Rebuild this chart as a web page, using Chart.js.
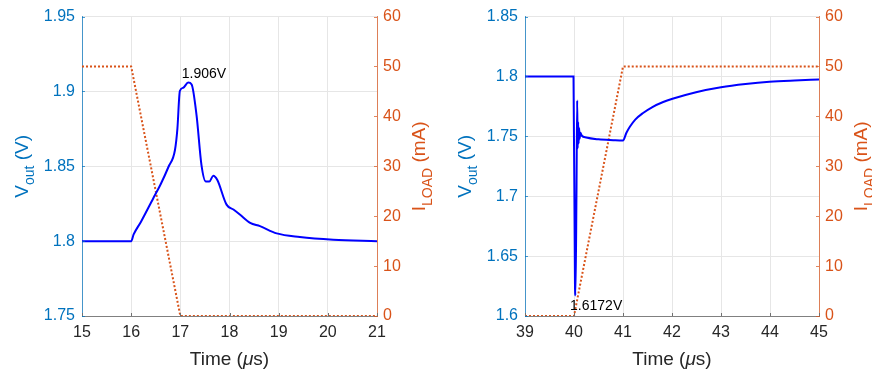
<!DOCTYPE html>
<html>
<head>
<meta charset="utf-8">
<script src="https://cdn.jsdelivr.net/npm/chart.js@4.4.1/dist/chart.umd.min.js"></script>
<style>
  html, body { margin: 0; padding: 0; background: #fff; }
  #wrap { position: relative; width: 872px; height: 371px; overflow: hidden; }
  .box { position: absolute; top: 0; width: 436px; height: 371px; }
  #boxL { left: 0; }
  #boxR { left: 436px; }
</style>
</head>
<body>
<div id="wrap">
  <div class="box" id="boxL"><canvas id="left"></canvas></div>
  <div class="box" id="boxR"><canvas id="right"></canvas></div>
</div>
<script>
// left panel: load release (50 mA -> 0)
const leftTime = [15, 16, 16.05, 16.2, 16.45, 16.6, 16.76, 16.89, 16.94, 16.99, 17.06, 17.16, 17.23, 17.33, 17.43,
  17.52, 17.59, 17.67, 17.75, 17.94, 18.08, 18.21, 18.42, 18.62, 18.96, 19.43, 20.11, 21];
const leftVout = [1.8, 1.8, 1.8045, 1.813, 1.8287, 1.838, 1.8497, 1.8607, 1.875, 1.9003, 1.9025, 1.906, 1.9047, 1.884, 1.8508,
  1.8398, 1.8398, 1.8437, 1.841, 1.8244, 1.8211, 1.8178, 1.8122, 1.81, 1.8052, 1.8028, 1.801, 1.8];
const leftLoadTime = [15, 16, 17, 21];
const leftLoad = [50, 50, 0, 0];

// right panel: load step (0 -> 50 mA)
const rightTime = [39, 39.99, 40.02, 40.03, 40.05, 40.065, 40.075, 40.085, 40.095, 40.105, 40.115, 40.13, 40.16,
  40.25, 40.5, 40.8, 41, 41.07, 41.14, 41.25, 41.41, 41.6, 41.82, 42.01, 42.49, 43, 43.5, 43.99, 44.5, 45];
const rightVout = [1.8, 1.8, 1.625, 1.6172, 1.70, 1.78, 1.74, 1.762, 1.744, 1.757, 1.748, 1.753, 1.7505,
  1.749, 1.7475, 1.7468, 1.7465, 1.753, 1.758, 1.764, 1.7695, 1.7745, 1.7787, 1.7814, 1.7869, 1.791, 1.7937, 1.7956, 1.7967, 1.7975];
const rightLoadTime = [39, 40, 41, 45];
const rightLoad = [0, 0, 50, 50];

const leftTicksV = [1.75, 1.8, 1.85, 1.9, 1.95];
const rightTicksV = [1.6, 1.65, 1.7, 1.75, 1.8, 1.85];
const loadTicks = [0, 10, 20, 30, 40, 50, 60];

const FONT = '"Liberation Sans", Arial, Helvetica, sans-serif';
const BLUE = 'rgb(0,114,189)';
const ORANGE = 'rgb(217,83,25)';
const DARK = '#262626';

function pts(xs, ys) { return xs.map((x, i) => ({ x: x, y: ys[i] })); }

function rotTitle(ctx, x, yc, parts, color) {
  ctx.save();
  ctx.translate(x, yc);
  ctx.rotate(-Math.PI / 2);
  ctx.fillStyle = color;
  ctx.textBaseline = 'alphabetic';
  ctx.textAlign = 'left';
  let w = 0;
  parts.forEach(p => { ctx.font = p.size + 'px ' + FONT; w += ctx.measureText(p.t).width; });
  let cx = -w / 2;
  parts.forEach(p => {
    ctx.font = p.size + 'px ' + FONT;
    ctx.fillText(p.t, cx, p.dy || 0);
    cx += ctx.measureText(p.t).width;
  });
  ctx.restore();
}

const decor = {
  id: 'decor',
  afterDraw(chart, args, opts) {
    const { ctx, chartArea: a, scales } = chart;
    ctx.save();
    ctx.lineWidth = 1;
    // inward tick marks
    ctx.strokeStyle = '#707070';
    scales.x.ticks.forEach(t => {
      const p = Math.round(scales.x.getPixelForValue(t.value)) + 0.5;
      ctx.beginPath(); ctx.moveTo(p, a.bottom); ctx.lineTo(p, a.bottom - 3); ctx.stroke();
    });
    ctx.strokeStyle = 'rgba(0,114,189,0.7)';
    scales.y.ticks.forEach(t => {
      const p = Math.round(scales.y.getPixelForValue(t.value)) + 0.5;
      ctx.beginPath(); ctx.moveTo(a.left, p); ctx.lineTo(a.left + 3, p); ctx.stroke();
    });
    ctx.strokeStyle = 'rgba(217,83,25,0.7)';
    scales.y2.ticks.forEach(t => {
      const p = Math.round(scales.y2.getPixelForValue(t.value)) + 0.5;
      ctx.beginPath(); ctx.moveTo(a.right, p); ctx.lineTo(a.right - 3, p); ctx.stroke();
    });

    // x title: Time (μs)
    ctx.fillStyle = DARK;
    ctx.textBaseline = 'alphabetic';
    ctx.textAlign = 'left';
    const segs = [{ t: 'Time (', f: '19px ' + FONT }, { t: 'μ', f: 'italic 19px ' + FONT }, { t: 's)', f: '19px ' + FONT }];
    let w = 0;
    segs.forEach(s => { ctx.font = s.f; w += ctx.measureText(s.t).width; });
    let cx = (a.left + a.right) / 2 - w / 2;
    segs.forEach(s => { ctx.font = s.f; ctx.fillText(s.t, cx, 365); cx += ctx.measureText(s.t).width; });

    const yc = (a.top + a.bottom) / 2;
    rotTitle(ctx, a.left - 54, yc, [
      { t: 'V', size: 19 }, { t: 'out', size: 14, dy: 6 }, { t: ' (V)', size: 19 }
    ], BLUE);
    rotTitle(ctx, a.right + 48, yc, [
      { t: 'I', size: 19 }, { t: 'LOAD', size: 14, dy: 7 }, { t: ' (mA)', size: 19 }
    ], ORANGE);

    // value label
    const n = opts.note;
    ctx.fillStyle = '#000';
    ctx.font = '14px ' + FONT;
    ctx.fillText(n.text, scales.x.getPixelForValue(n.x), scales.y.getPixelForValue(n.y));
    ctx.restore();
  }
};

function makeChart(id, c) {
  return new Chart(document.getElementById(id), {
    type: 'line',
    data: {
      datasets: [
        {
          data: pts(c.loadTime, c.load), yAxisID: 'y2',
          borderColor: ORANGE, borderWidth: 2, borderDash: [2, 2],
          pointRadius: 0, tension: 0, order: 2
        },
        {
          data: pts(c.time, c.vout), yAxisID: 'y',
          borderColor: '#0000FF', borderWidth: 2,
          pointRadius: 0, cubicInterpolationMode: 'monotone', order: 1
        }
      ]
    },
    options: {
      responsive: false,
      animation: false,
      events: [],
      layout: { padding: { top: 13, left: 0, right: 0, bottom: 0 } },
      plugins: { legend: { display: false }, tooltip: { enabled: false }, decor: { note: c.note } },
      scales: {
        x: {
          type: 'linear', min: c.xmin, max: c.xmax,
          afterBuildTicks: s => { s.ticks = c.xticks.map(v => ({ value: v })); },
          afterFit: s => { s.height = 55; },
          ticks: { color: DARK, font: { family: FONT, size: 16 }, padding: 7, maxRotation: 0 },
          grid: { color: '#e6e6e6', drawTicks: false },
          border: { color: '#808080', width: 1 }
        },
        y: {
          position: 'left', min: c.ymin, max: c.ymax,
          afterBuildTicks: s => { s.ticks = c.yticks.map(v => ({ value: v })); },
          afterFit: s => { s.width = c.leftW; },
          ticks: { color: BLUE, font: { family: FONT, size: 16 }, padding: 7, callback: v => String(+v.toFixed(2)) },
          grid: { color: '#e6e6e6', drawTicks: false },
          border: { color: 'rgba(0,114,189,0.7)', width: 1 }
        },
        y2: {
          position: 'right', min: 0, max: 60,
          afterBuildTicks: s => { s.ticks = loadTicks.map(v => ({ value: v })); },
          afterFit: s => { s.width = c.rightW; },
          ticks: { color: ORANGE, font: { family: FONT, size: 16 }, padding: 6 },
          grid: { drawOnChartArea: false, drawTicks: false },
          border: { color: 'rgba(217,83,25,0.7)', width: 1 }
        }
      }
    },
    plugins: [decor]
  });
}

function sizeCanvas(id) {
  const cv = document.getElementById(id);
  cv.width = 436; cv.height = 371;
  cv.style.width = '436px'; cv.style.height = '371px';
}
sizeCanvas('left'); sizeCanvas('right');

makeChart('left', {
  time: leftTime, vout: leftVout, loadTime: leftLoadTime, load: leftLoad,
  xmin: 15, xmax: 21, xticks: [15, 16, 17, 18, 19, 20, 21],
  ymin: 1.75, ymax: 1.95, yticks: leftTicksV,
  leftW: 82, rightW: 59,
  note: { text: '1.906V', x: 17.03, y: 1.909 }
});

makeChart('right', {
  time: rightTime, vout: rightVout, loadTime: rightLoadTime, load: rightLoad,
  xmin: 39, xmax: 45, xticks: [39, 40, 41, 42, 43, 44, 45],
  ymin: 1.6, ymax: 1.85, yticks: rightTicksV,
  leftW: 89, rightW: 53,
  note: { text: '1.6172V', x: 39.92, y: 1.605 }
});
</script>
</body>
</html>
